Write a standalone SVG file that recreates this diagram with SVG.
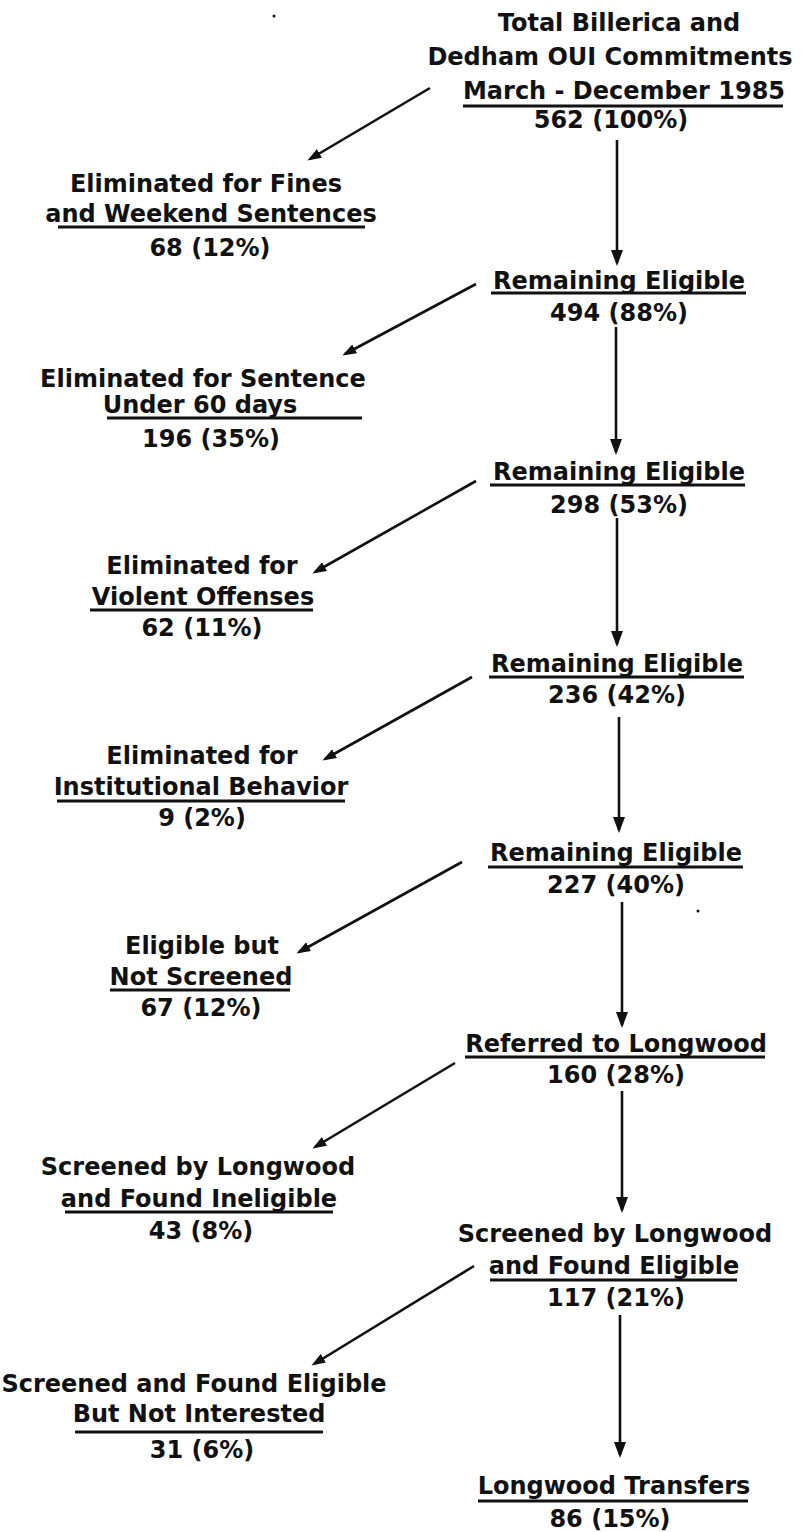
<svg xmlns="http://www.w3.org/2000/svg" width="805" height="1532" viewBox="0 0 805 1532">
<style>
text{font-family:"DejaVu Sans","Liberation Sans",sans-serif;font-weight:bold;font-size:24px;fill:#111;text-anchor:middle}
.u{stroke:#111;stroke-width:3}
.c{stroke:#111;stroke-width:2.6;fill:none}
.v{marker-end:url(#vh)}
.d{marker-end:url(#dh)}
</style>
<defs>
<marker id="vh" viewBox="0 0 16 12" refX="13" refY="6" markerWidth="16" markerHeight="12" markerUnits="userSpaceOnUse" orient="auto"><path d="M0,0 L16,6 L0,12 z" fill="#111"/></marker>
<marker id="dh" viewBox="0 0 14 10" refX="11" refY="5" markerWidth="14" markerHeight="10" markerUnits="userSpaceOnUse" orient="auto"><path d="M0,0 L14,5 L0,10 z" fill="#111"/></marker>
</defs>
<rect width="805" height="1532" fill="#fff"/>
<g id="connectors">
<line class="c v" x1="617" y1="140" x2="617" y2="263"/>
<line class="c v" x1="616" y1="327" x2="616" y2="452"/>
<line class="c v" x1="617" y1="518" x2="617" y2="644"/>
<line class="c v" x1="619" y1="717" x2="619" y2="830"/>
<line class="c v" x1="622" y1="902" x2="622" y2="1025"/>
<line class="c v" x1="622" y1="1091" x2="622" y2="1210"/>
<line class="c v" x1="620" y1="1315" x2="620" y2="1455"/>
<line class="c d" x1="430" y1="88" x2="310" y2="159"/>
<line class="c d" x1="476" y1="284" x2="345" y2="354"/>
<line class="c d" x1="476" y1="481" x2="315" y2="572"/>
<line class="c d" x1="472" y1="677" x2="325" y2="759"/>
<line class="c d" x1="462" y1="862" x2="299" y2="952"/>
<line class="c d" x1="455" y1="1063" x2="315" y2="1147"/>
<line class="c d" x1="474" y1="1266" x2="314" y2="1364"/>
</g>
<g id="total">
<text x="619" y="31">Total Billerica and</text>
<text x="610" y="65">Dedham OUI Commitments</text>
<text x="624" y="99">March - December 1985</text>
<line class="u" x1="463" y1="106" x2="783" y2="106"/>
<text x="611" y="128">562 (100%)</text>
</g>
<g id="elim-fines">
<text x="206" y="192">Eliminated for Fines</text>
<text x="211" y="222">and Weekend Sentences</text>
<line class="u" x1="58" y1="227" x2="365" y2="227"/>
<text x="210" y="256">68 (12%)</text>
</g>
<g id="remain-1">
<text x="619" y="289">Remaining Eligible</text>
<line class="u" x1="491" y1="293" x2="746" y2="293"/>
<text x="619" y="321">494 (88%)</text>
</g>
<g id="elim-sentence">
<text x="203" y="387">Eliminated for Sentence</text>
<text x="200" y="413">Under 60 days</text>
<line class="u" x1="107" y1="418" x2="362" y2="418"/>
<text x="211" y="447">196 (35%)</text>
</g>
<g id="remain-2">
<text x="619" y="480">Remaining Eligible</text>
<line class="u" x1="490" y1="485" x2="745" y2="485"/>
<text x="619" y="513">298 (53%)</text>
</g>
<g id="elim-violent">
<text x="202" y="574">Eliminated for</text>
<text x="203" y="605">Violent Offenses</text>
<line class="u" x1="90" y1="610" x2="313" y2="610"/>
<text x="202" y="636">62 (11%)</text>
</g>
<g id="remain-3">
<text x="617" y="672">Remaining Eligible</text>
<line class="u" x1="489" y1="677" x2="744" y2="677"/>
<text x="617" y="703">236 (42%)</text>
</g>
<g id="elim-behavior">
<text x="202" y="764">Eliminated for</text>
<text x="201" y="795">Institutional Behavior</text>
<line class="u" x1="57" y1="801" x2="345" y2="801"/>
<text x="202" y="826">9 (2%)</text>
</g>
<g id="remain-4">
<text x="616" y="861">Remaining Eligible</text>
<line class="u" x1="488" y1="867" x2="743" y2="867"/>
<text x="616" y="893">227 (40%)</text>
</g>
<g id="not-screened">
<text x="202" y="954">Eligible but</text>
<text x="201" y="985">Not Screened</text>
<line class="u" x1="110" y1="990" x2="290" y2="990"/>
<text x="201" y="1016">67 (12%)</text>
</g>
<g id="referred">
<text x="616" y="1052">Referred to Longwood</text>
<line class="u" x1="465" y1="1057" x2="765" y2="1057"/>
<text x="616" y="1083">160 (28%)</text>
</g>
<g id="ineligible">
<text x="198" y="1175">Screened by Longwood</text>
<text x="199" y="1207">and Found Ineligible</text>
<line class="u" x1="65" y1="1212" x2="333" y2="1212"/>
<text x="201" y="1239">43 (8%)</text>
</g>
<g id="eligible">
<text x="615" y="1242">Screened by Longwood</text>
<text x="614" y="1274">and Found Eligible</text>
<line class="u" x1="490" y1="1280" x2="737" y2="1280"/>
<text x="616" y="1306">117 (21%)</text>
</g>
<g id="not-interested">
<text x="194" y="1392">Screened and Found Eligible</text>
<text x="199" y="1422">But Not Interested</text>
<line class="u" x1="75" y1="1432" x2="323" y2="1432"/>
<text x="202" y="1458">31 (6%)</text>
</g>
<g id="transfers">
<text x="614" y="1494">Longwood Transfers</text>
<line class="u" x1="478" y1="1501" x2="748" y2="1501"/>
<text x="610" y="1527">86 (15%)</text>
</g>
<circle cx="274" cy="16" r="1.5" fill="#111"/>
<circle cx="698" cy="911" r="1.5" fill="#111"/>
</svg>
